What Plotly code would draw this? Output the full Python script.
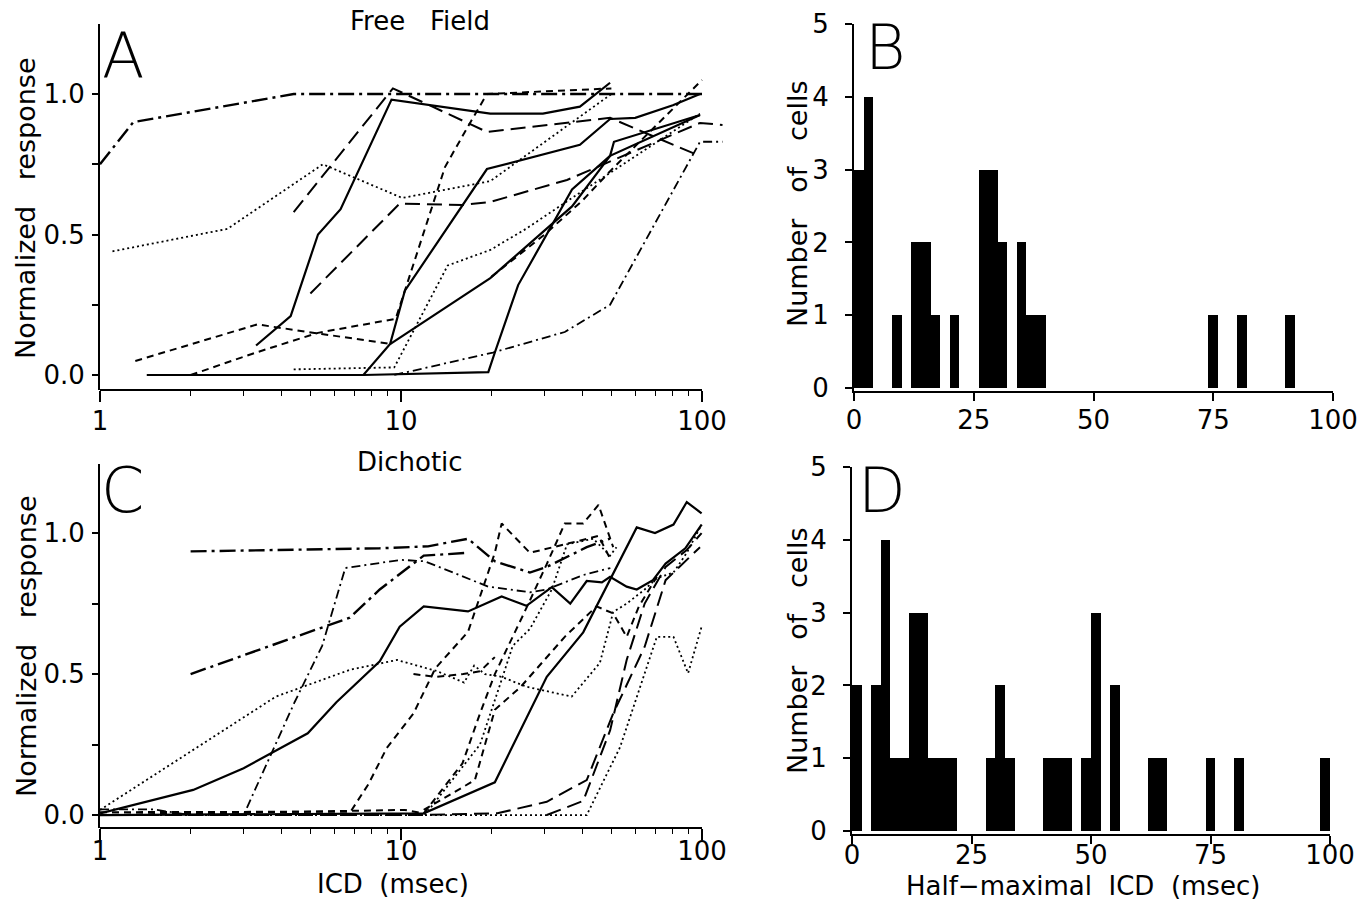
import plotly.graph_objects as go

# ---------------- DATA ----------------
# Panel A (Free Field): ICD (msec) vs normalized response
a1_x = [1, 1.29, 4.4, 100];                    a1_y = [0.75, 0.90, 1.0, 1.0]
a2_x = [1.1, 2.65, 5.5, 10.1, 19.8, 50];       a2_y = [0.44, 0.52, 0.75, 0.63, 0.69, 1.0]
a3_x = [4.4, 9.4, 19.3, 49.5, 98];             a3_y = [0.58, 1.02, 0.865, 0.915, 0.78]
a4_x = [3.3, 4.3, 5.3, 6.3, 9.3, 19.8, 29.6, 39.3, 49.5]
a4_y = [0.105, 0.21, 0.50, 0.59, 0.98, 0.93, 0.93, 0.955, 1.04]
a5_x = [1.43, 7.5, 9.2, 10.3, 19.3, 39.3, 49.5, 60, 80, 98.5]
a5_y = [0, 0, 0.11, 0.30, 0.733, 0.819, 0.911, 0.915, 0.96, 1.0]
a6_x = [9.2, 19.8, 37, 49.5, 98.5];            a6_y = [0.11, 0.345, 0.60, 0.78, 0.925]
a7_x = [7.5, 19.5, 20.5, 24.5, 37, 49.5, 51, 98.5]
a7_y = [0, 0.01, 0.08, 0.32, 0.66, 0.78, 0.83, 0.925]
a8_x = [1.31, 3.33, 5.45, 9.3];                a8_y = [0.05, 0.18, 0.146, 0.11]
a9_x = [2.0, 3.3, 5.3, 9.6, 10.3, 14, 16.6, 19.3, 50]
a9_y = [0, 0.08, 0.15, 0.20, 0.30, 0.74, 0.88, 1.0, 1.02]
a10_x = [5.0, 9.9, 16, 19.8, 35.6, 98.5, 117]; a10_y = [0.29, 0.61, 0.605, 0.616, 0.694, 0.897, 0.89]
a11_x = [4.4, 9.5, 14.3, 19.8, 26, 37, 98.5];  a11_y = [0.02, 0.027, 0.39, 0.445, 0.52, 0.63, 0.93]
a12_x = [9.5, 20.2, 35, 49.5, 98.5, 117];      a12_y = [0, 0.08, 0.153, 0.25, 0.83, 0.83]
a13_x = [20, 30, 40, 50, 100];                 a13_y = [0.35, 0.5, 0.62, 0.73, 1.05]

# Panel C (Dichotic)
c1_x = [2.0, 8.5, 12.3, 16.7, 20.5, 26.8, 30.5, 41.4, 49.5]
c1_y = [0.935, 0.946, 0.953, 0.98, 0.90, 0.86, 0.88, 0.95, 0.98]
c2_x = [2.0, 6.76, 8.5, 11.9, 16.7];           c2_y = [0.50, 0.70, 0.80, 0.92, 0.93]
c3_x = [1.0, 1.5, 2.0, 3.0, 4.43, 5.47, 6.53, 10, 12, 19.5, 26.8, 30.5, 40, 49.6]
c3_y = [0.02, 0.02, 0.0, 0.0, 0.40, 0.60, 0.876, 0.905, 0.90, 0.81, 0.79, 0.80, 0.85, 0.876]
c4_x = [1, 2.04, 3.0, 4.9, 6.1, 8.5, 9.9, 11.9, 16.7, 21.6, 26.1, 31.7, 36.5, 41.4, 46.5,
        49.5, 56.2, 60.7, 68.7, 75.7, 88, 99.7]
c4_y = [0.006, 0.089, 0.166, 0.29, 0.40, 0.545, 0.668, 0.74, 0.722, 0.775, 0.742, 0.808, 0.75,
        0.83, 0.825, 0.845, 0.81, 0.80, 0.833, 0.892, 0.946, 1.03]
c5_x = [1, 11.9, 20.5, 30.5, 40.3, 49.5, 60.7, 69.8, 80.4, 89, 99.7]
c5_y = [0.0, 0.006, 0.116, 0.49, 0.648, 0.833, 1.02, 1.0, 1.03, 1.11, 1.07]
c6_x = [1, 3.84, 6.76, 9.7, 13.2, 16.2, 17.5, 19.0, 21.6, 26.1, 36.9, 45.8, 50.7, 56.2, 64.5,
        70.8, 80.4, 89, 99.7]
c6_y = [0.018, 0.42, 0.515, 0.55, 0.51, 0.47, 0.53, 0.50, 0.49, 0.455, 0.42, 0.54, 0.72, 0.75,
        0.80, 0.84, 0.86, 0.93, 1.03]
c7_x = [1, 6.8, 7.8, 8.96, 11, 13, 16.7, 20.5, 21.6, 26.8, 35, 45.3, 49.5]
c7_y = [0.01, 0.012, 0.11, 0.237, 0.36, 0.52, 0.65, 0.93, 1.034, 0.93, 0.96, 0.99, 0.91]
c8_x = [11.0, 13, 16.1, 18.3, 20.5];           c8_y = [0.50, 0.49, 0.50, 0.51, 0.56]
c9_x = [1, 10.3, 11.9, 16, 18.3, 20.5, 25.6, 30.5, 35, 40.3, 45.3, 50.7]
c9_y = [0, 0.018, 0.006, 0.183, 0.36, 0.50, 0.715, 0.89, 1.034, 1.034, 1.10, 0.95]
c10_x = [11.9, 17.6, 20.5, 25, 35, 44.6, 50.7, 56.2, 61.7, 70.8]
c10_y = [0.018, 0.124, 0.373, 0.455, 0.632, 0.74, 0.715, 0.632, 0.74, 0.845]
c11_x = [1, 11.6, 20.9, 30.5, 41.4, 50.7, 64.5, 75.7, 98.5]
c11_y = [0, 0.0, 0.006, 0.047, 0.124, 0.36, 0.597, 0.833, 0.95]
c12_x = [1, 41.4, 53.4, 70.8, 80.4, 89.9, 99.7]
c12_y = [0, 0.0, 0.24, 0.632, 0.632, 0.503, 0.668]
c13_x = [12, 18.3, 21.6, 23.5, 26.8, 31.7, 35.6, 43.5, 49.5, 52]
c13_y = [0.0, 0.25, 0.48, 0.60, 0.66, 0.80, 0.96, 0.98, 0.92, 0.95]
c14_x = [30.5, 40.3, 49.5, 56.2, 64.5, 75.7, 89, 99.7]
c14_y = [0, 0.05, 0.30, 0.55, 0.75, 0.88, 0.94, 1.0]

# Panel B histogram (bin start, msec; bin width 2) and counts
B_bin_start = [0, 2, 8, 12, 14, 16, 20, 26, 28, 30, 34, 36, 38, 74, 80, 90]
B_counts    = [3, 4, 1, 2, 2, 1, 1, 3, 3, 2, 2, 1, 1, 1, 1, 1]
# Panel D histogram
D_bin_start = [0, 4, 6, 8, 10, 12, 14, 16, 18, 20, 28, 30, 32, 40, 42, 44, 48, 50, 54, 62, 64, 74, 80, 98]
D_counts    = [2, 2, 4, 1, 1, 3, 3, 1, 1, 1, 1, 2, 1, 1, 1, 1, 1, 3, 2, 1, 1, 1, 1, 1]
BIN_W = 2

log_tick_vals = [1, 10, 100]
log_tick_text = ["1", "10", "100"]
log_minor_vals = [2, 3, 4, 5, 6, 7, 8, 9, 20, 30, 40, 50, 60, 70, 80, 90]
resp_tick_vals = [0, 0.25, 0.5, 0.75, 1.0]
resp_tick_text = ["0.0", "", "0.5", "", "1.0"]
hist_x_ticks = [0, 25, 50, 75, 100]
hist_y_ticks = [0, 1, 2, 3, 4, 5]

# ---------------- STYLE ----------------
W, H = 1372, 910
def fx(px): return px / W
def fy(py): return 1 - py / H

FONT = "DejaVu Sans"
STY = {
    "solid":  dict(dash="solid", width=2.2),
    "dash":   dict(dash="7px,5px", width=2.0),
    "ldash":  dict(dash="15px,7px", width=2.0),
    "dot":    dict(dash="2px,3px", width=1.8),
    "dd":     dict(dash="9px,4px,2px,4px", width=1.8),
    "ldd":    dict(dash="16px,5px,3px,5px", width=2.4),
}

A_curves = [(a1_x, a1_y, "ldd"), (a2_x, a2_y, "dot"), (a3_x, a3_y, "ldash"),
            (a4_x, a4_y, "solid"), (a5_x, a5_y, "solid"), (a6_x, a6_y, "solid"),
            (a7_x, a7_y, "solid"), (a8_x, a8_y, "dash"), (a9_x, a9_y, "dash"),
            (a10_x, a10_y, "ldash"), (a11_x, a11_y, "dot"), (a12_x, a12_y, "dd"),
            (a13_x, a13_y, "dash")]
C_curves = [(c1_x, c1_y, "ldd"), (c2_x, c2_y, "ldd"), (c3_x, c3_y, "dd"),
            (c4_x, c4_y, "solid"), (c5_x, c5_y, "solid"), (c6_x, c6_y, "dot"),
            (c7_x, c7_y, "dash"), (c8_x, c8_y, "dash"), (c9_x, c9_y, "dash"),
            (c10_x, c10_y, "dash"), (c11_x, c11_y, "ldash"), (c12_x, c12_y, "dot"),
            (c13_x, c13_y, "dot"), (c14_x, c14_y, "ldash")]

fig = go.Figure()
for xs, ys, s in A_curves:
    fig.add_trace(go.Scatter(x=xs, y=ys, mode="lines", xaxis="x", yaxis="y",
                             line=dict(color="black", **STY[s]), showlegend=False, hoverinfo="skip"))
for xs, ys, s in C_curves:
    fig.add_trace(go.Scatter(x=xs, y=ys, mode="lines", xaxis="x3", yaxis="y3",
                             line=dict(color="black", **STY[s]), showlegend=False, hoverinfo="skip"))
fig.add_trace(go.Bar(x=[b + BIN_W / 2 for b in B_bin_start], y=B_counts, width=BIN_W,
                     xaxis="x2", yaxis="y2", marker=dict(color="black", line=dict(width=0)),
                     showlegend=False, hoverinfo="skip"))
fig.add_trace(go.Bar(x=[b + BIN_W / 2 for b in D_bin_start], y=D_counts, width=BIN_W,
                     xaxis="x4", yaxis="y4", marker=dict(color="black", line=dict(width=0)),
                     showlegend=False, hoverinfo="skip"))

tickfont = dict(family=FONT, size=26, color="black")
LOGMAX = 2.075

def log_xaxis(anchor, standoff):
    return dict(type="log", range=[0, LOGMAX], domain=[fx(100), fx(100 + LOGMAX * 301)],
                anchor=anchor, tickmode="array", tickvals=log_tick_vals, ticktext=log_tick_text,
                ticks="outside", ticklen=11, tickwidth=1.6, tickcolor="black",
                minor=dict(tickmode="array", tickvals=log_minor_vals, ticks="outside",
                           ticklen=5, tickwidth=1.4, tickcolor="black", showgrid=False),
                showline=False, showgrid=False, zeroline=False, tickfont=tickfont,
                ticklabelstandoff=standoff, automargin=False)

def resp_yaxis(anchor, top_px, bottom_px, lo, hi):
    return dict(range=[lo, hi], domain=[fy(bottom_px), fy(top_px)], anchor=anchor,
                tickmode="array", tickvals=resp_tick_vals, ticktext=resp_tick_text,
                ticks="outside", ticklen=6, tickwidth=1.6, tickcolor="black",
                showline=True, linecolor="black", linewidth=1.8, showgrid=False,
                zeroline=False, tickfont=tickfont, ticklabelstandoff=2, automargin=False)

def hist_xaxis(anchor, x0, x1, standoff):
    return dict(range=[0, 100], domain=[fx(x0), fx(x1)], anchor=anchor, tickmode="array",
                tickvals=hist_x_ticks, ticks="outside", ticklen=8, tickwidth=1.6,
                tickcolor="black", showline=True, linecolor="black", linewidth=1.8,
                showgrid=False, zeroline=False, tickfont=tickfont,
                ticklabelstandoff=standoff, automargin=False)

def hist_yaxis(anchor, top_px, bottom_px):
    return dict(range=[-0.04, 5], domain=[fy(bottom_px), fy(top_px)], anchor=anchor,
                tickmode="array", tickvals=hist_y_ticks, ticks="outside", ticklen=7,
                tickwidth=1.6, tickcolor="black", showline=True, linecolor="black",
                linewidth=1.8, showgrid=False, zeroline=False, tickfont=tickfont,
                ticklabelstandoff=11, automargin=False)

def ann(text, xp, yp, size=26, angle=0, weight="normal"):
    return dict(text=text, x=fx(xp), y=fy(yp), xref="paper", yref="paper", showarrow=False,
                xanchor="center", yanchor="middle", textangle=angle,
                font=dict(family=FONT, size=size, color="black", weight=weight))

NB = "\u00a0"
annotations = [
    ann("Free" + NB * 3 + "Field", 420, 21),
    ann("Dichotic", 410, 462),
    ann("Normalized" + NB * 3 + "response", 26, 208, size=27, angle=-90),
    ann("Normalized" + NB * 3 + "response", 26, 646, size=27, angle=-90),
    ann("Number" + NB * 3 + "of" + NB * 3 + "cells", 797, 203, size=27, angle=-90),
    ann("Number" + NB * 3 + "of" + NB * 3 + "cells", 797, 650, size=27, angle=-90),
    ann("ICD" + NB * 2 + "(msec)", 393, 884),
    ann("Half\u2212maximal" + NB * 2 + "ICD" + NB * 2 + "(msec)", 1083, 886),
    ann("A", 123, 55, size=62, weight=200),
    ann("B", 885, 47, size=62, weight=200),
    ann("C", 122, 490, size=62, weight=200),
    ann("D", 882, 490, size=62, weight=200),
]

shapes = [
    dict(type="line", xref="x domain", yref="y domain", x0=0, x1=2 / LOGMAX, y0=0, y1=0,
         line=dict(color="black", width=1.8)),
    dict(type="line", xref="x3 domain", yref="y3 domain", x0=0, x1=2 / LOGMAX, y0=0, y1=0,
         line=dict(color="black", width=1.8)),
]

fig.update_layout(
    template="none",
    width=W, height=H, margin=dict(l=0, r=0, t=0, b=0, autoexpand=False),
    paper_bgcolor="white", plot_bgcolor="white", bargap=0, showlegend=False,
    xaxis=log_xaxis("y", -3),
    yaxis=resp_yaxis("x", 23.75, 390, -0.0534, 1.25),
    xaxis3=log_xaxis("y3", -11),
    yaxis3=resp_yaxis("x3", 464, 828, -0.046, 1.245),
    xaxis2=hist_xaxis("y2", 854, 1333, -3),
    yaxis2=hist_yaxis("x2", 24, 391),
    xaxis4=hist_xaxis("y4", 852, 1330, -11),
    yaxis4=hist_yaxis("x4", 467, 834),
    annotations=annotations, shapes=shapes,
)

fig.write_html("out.html")
